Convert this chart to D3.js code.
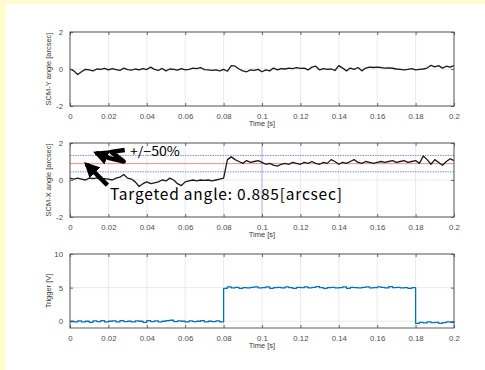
<!DOCTYPE html>
<html>
<head>
<meta charset="utf-8">
<script src="https://cdn.jsdelivr.net/npm/d3@7"></script>
<style>
  body { margin: 0; background: #fff; }
  svg { display: block; }
  .tick text { font-family: "Liberation Sans", Arial, sans-serif; font-size: 7.8px; fill: #4d4d4d; }
  .lbl { font-family: "Liberation Sans", Arial, sans-serif; font-size: 7.5px; fill: #3a3a3a; }
  .note { font-family: "Noto Sans CJK JP", sans-serif; fill: #000; }
</style>
</head>
<body>
<script>
// time axis ticks and samples (2 ms step)
var xTicks = [0, 0.02, 0.04, 0.06, 0.08, 0.1, 0.12, 0.14, 0.16, 0.18, 0.2];
var xTickLabels = ["0", "0.02", "0.04", "0.06", "0.08", "0.1", "0.12", "0.14", "0.16", "0.18", "0.2"];
var dt = 0.002;

// SCM-Y angle [arcsec]
var scmY = [0.0,-0.1,-0.3,-0.15,-0.02,-0.05,-0.1,0.0,-0.02,0.03,
  -0.05,0.02,-0.03,-0.08,0.05,-0.03,-0.06,0.0,-0.05,0.02,
  -0.03,0.1,-0.02,-0.08,0.03,-0.1,0.0,-0.02,-0.06,0.02,
  -0.05,-0.02,0.05,0.02,0.08,-0.03,-0.05,-0.08,-0.05,-0.1,
  -0.02,-0.12,0.18,0.15,0.0,-0.1,-0.15,-0.05,-0.08,-0.02,
  -0.15,-0.05,-0.1,0.05,-0.05,0.02,0.0,0.05,0.02,0.08,
  0.03,0.05,-0.05,0.1,0.15,-0.05,0.02,-0.02,0.0,-0.08,
  0.18,0.05,-0.1,0.05,-0.02,0.08,-0.1,0.05,0.1,0.08,
  0.1,0.08,0.05,0.06,0.04,0.0,-0.02,-0.05,-0.02,0.02,
  -0.05,-0.02,0.0,0.05,0.2,0.12,0.18,0.05,0.15,0.1,0.18];

// SCM-X angle [arcsec]
var scmX = [0.1,0.05,0.1,0.05,0.0,0.1,0.08,0.12,0.05,0.08,
  0.05,0.0,0.1,0.15,0.3,0.1,0.05,-0.1,-0.35,-0.2,
  -0.1,-0.2,-0.15,-0.1,0.0,-0.05,0.1,0.0,-0.2,-0.3,
  -0.1,-0.05,0.0,-0.05,0.0,-0.02,0.0,-0.05,0.0,0.05,
  0.1,1.1,1.25,1.1,1.0,0.9,1.05,0.95,1.0,1.05,
  0.95,0.85,0.9,0.8,0.75,0.85,0.9,0.85,0.95,0.9,
  0.85,0.95,0.9,1.0,0.9,0.85,0.95,0.9,1.1,1.0,
  0.85,0.95,0.9,1.0,1.1,0.95,0.9,1.0,0.95,0.9,
  0.95,1.0,0.95,1.0,1.05,0.95,1.0,1.05,0.95,1.0,
  1.05,0.9,1.3,1.1,0.85,1.1,0.95,0.8,1.0,1.15,1.05];

// Trigger [V]
var trigger = [0.0,-0.1,0.05,-0.1,0.0,-0.15,0.05,-0.05,0.1,-0.1,
  0.0,0.05,-0.1,0.1,-0.05,0.0,-0.1,0.05,0.0,-0.15,
  0.1,-0.05,0.05,-0.1,0.0,0.1,0.15,-0.05,0.05,0.0,
  -0.1,0.05,-0.05,0.0,0.1,-0.1,0.0,-0.05,0.05,-0.1,
  4.9,5.1,4.95,5.05,4.9,5.0,4.95,5.05,5.1,4.95,
  5.0,5.1,4.9,5.0,5.05,4.95,5.1,5.0,4.9,5.05,
  5.0,5.1,4.95,5.05,5.15,5.0,4.9,5.0,5.05,4.95,
  5.0,5.1,4.9,5.05,5.0,4.95,5.05,5.1,4.95,5.0,
  5.1,5.05,4.95,5.15,5.0,5.05,4.95,5.0,4.9,5.0,
  -0.3,-0.15,-0.25,-0.1,-0.2,-0.15,-0.3,-0.2,-0.1,-0.15,0.0];

// target and +/-50 % band on SCM-X
var target = 0.885;
var band = [target * 1.5, target * 0.5];
var markTime = 0.1;

var W = 485, H = 370;
var svg = d3.select("body").append("svg").attr("width", W).attr("height", H);

// yellowish page edge
svg.append("rect").attr("x", 0).attr("y", 0).attr("width", W).attr("height", 4).attr("fill", "#fffdd0");
svg.append("rect").attr("x", 0).attr("y", 0).attr("width", 6).attr("height", H).attr("fill", "#fffdd0");

var x = d3.scaleLinear().domain([0, 0.2]).range([70, 454]);

var panels = [
  {top: 32, label: "SCM-Y angle [arcsec]", domain: [-2, 2], ticks: [-2, 0, 2], data: scmY, color: "#1a1a1a", step: false},
  {top: 143, label: "SCM-X angle [arcsec]", domain: [-2, 2], ticks: [-2, 0, 2], data: scmX, color: "#1a1a1a", step: false},
  {top: 254, label: "Trigger [V]", domain: [-1, 10], ticks: [0, 5, 10], data: trigger, color: "#0072bd", step: true}
];
var ph = 74;

panels.forEach(function(p, i) {
  var y = d3.scaleLinear().domain(p.domain).range([p.top + ph, p.top]);
  p.y = y;
  var g = svg.append("g");

  // grid
  g.selectAll(".gx").data(xTicks).enter().append("line")
      .attr("x1", function(d) { return x(d); }).attr("x2", function(d) { return x(d); })
      .attr("y1", p.top).attr("y2", p.top + ph)
      .attr("stroke", "#e3e3e3").attr("stroke-width", 0.8);
  g.selectAll(".gy").data(p.ticks).enter().append("line")
      .attr("x1", 70).attr("x2", 454)
      .attr("y1", function(d) { return y(d); }).attr("y2", function(d) { return y(d); })
      .attr("stroke", "#e3e3e3").attr("stroke-width", 0.8);

  // SCM-X reference lines
  if (i === 1) {
    g.append("line").attr("x1", x(markTime)).attr("x2", x(markTime))
        .attr("y1", p.top).attr("y2", p.top + ph)
        .attr("stroke", "#b4b8f2").attr("stroke-width", 1);
    g.append("line").attr("x1", 70).attr("x2", 454)
        .attr("y1", y(target)).attr("y2", y(target))
        .attr("stroke", "#f07c7c").attr("stroke-width", 0.9);
    g.selectAll(".band").data(band).enter().append("line")
        .attr("x1", 70).attr("x2", 454)
        .attr("y1", function(d) { return y(d); }).attr("y2", function(d) { return y(d); })
        .attr("stroke", "#7b7bf0").attr("stroke-width", 0.9).attr("stroke-dasharray", "1.5,1");
  }

  // data line
  var line = d3.line()
      .x(function(d, k) { return x(k * dt); })
      .y(function(d) { return y(d); })
      .curve(p.step ? d3.curveStepAfter : d3.curveLinear);
  g.append("path").datum(p.data)
      .attr("d", line)
      .attr("fill", "none")
      .attr("stroke", p.color)
      .attr("stroke-width", 1.3)
      .attr("stroke-linejoin", "round");

  // axes, MATLAB-style inward ticks on all sides
  g.append("g").attr("transform", "translate(0," + (p.top + ph) + ")")
      .call(d3.axisBottom(x).tickValues(xTicks).tickSizeInner(-3).tickSizeOuter(0).tickPadding(7)
        .tickFormat(function(d, k) { return xTickLabels[k]; }));
  g.append("g").attr("transform", "translate(0," + p.top + ")")
      .call(d3.axisTop(x).tickValues(xTicks).tickSizeInner(-3).tickSizeOuter(0).tickFormat(""));
  g.append("g").attr("transform", "translate(70,0)")
      .call(d3.axisLeft(y).tickValues(p.ticks).tickSizeInner(-3).tickSizeOuter(0).tickPadding(7)
        .tickFormat(function(d) { return String(d); }));
  g.append("g").attr("transform", "translate(454,0)")
      .call(d3.axisRight(y).tickValues(p.ticks).tickSizeInner(-3).tickSizeOuter(0).tickFormat(""));
  g.selectAll(".domain").remove();
  g.selectAll(".tick line").attr("stroke", "#444").attr("stroke-width", 0.8);
  g.append("rect").attr("x", 70).attr("y", p.top).attr("width", 384).attr("height", ph)
      .attr("fill", "none").attr("stroke", "#4a4a4a").attr("stroke-width", 0.9);

  // labels
  g.append("text").attr("class", "lbl")
      .attr("x", x(0.1)).attr("y", p.top + ph + 20)
      .attr("text-anchor", "middle").text("Time [s]");
  g.append("text").attr("class", "lbl")
      .attr("transform", "translate(51," + (p.top + ph / 2) + ") rotate(-90)")
      .attr("text-anchor", "middle").text(p.label);
});

// annotations on SCM-X panel
var ys = panels[1].y;
var defs = svg.append("defs");
defs.append("marker").attr("id", "head")
    .attr("viewBox", "0 0 10 10").attr("refX", 8).attr("refY", 5)
    .attr("markerWidth", 3.4).attr("markerHeight", 3.6).attr("orient", "auto")
  .append("path").attr("d", "M0,0 L10,5 L0,10 z").attr("fill", "#000");

var arrow1 = [[0.0285, 1.62], [0.0215, 1.52], [0.028, 1.0], [0.0205, 1.18], [0.0135, 1.47]];
var arrow2 = [[0.0195, -0.28], [0.0085, 0.85]];
var aLine = d3.line().x(function(d) { return x(d[0]); }).y(function(d) { return ys(d[1]); });
[arrow1, arrow2].forEach(function(a) {
  svg.append("path").attr("d", aLine(a))
      .attr("fill", "none").attr("stroke", "#000").attr("stroke-width", 4.5)
      .attr("stroke-linejoin", "round").attr("marker-end", "url(#head)");
});

svg.append("text").attr("class", "note")
    .attr("x", x(0.0312)).attr("y", ys(1.3))
    .attr("font-size", 12.5).attr("textLength", 50).attr("lengthAdjust", "spacingAndGlyphs")
    .text("+/\u221250%");
svg.append("text").attr("class", "note")
    .attr("x", x(0.0208)).attr("y", ys(-1.08))
    .attr("font-size", 15.5).attr("textLength", 232).attr("lengthAdjust", "spacing")
    .text("Targeted angle: 0.885[arcsec]");
</script>
</body>
</html>
